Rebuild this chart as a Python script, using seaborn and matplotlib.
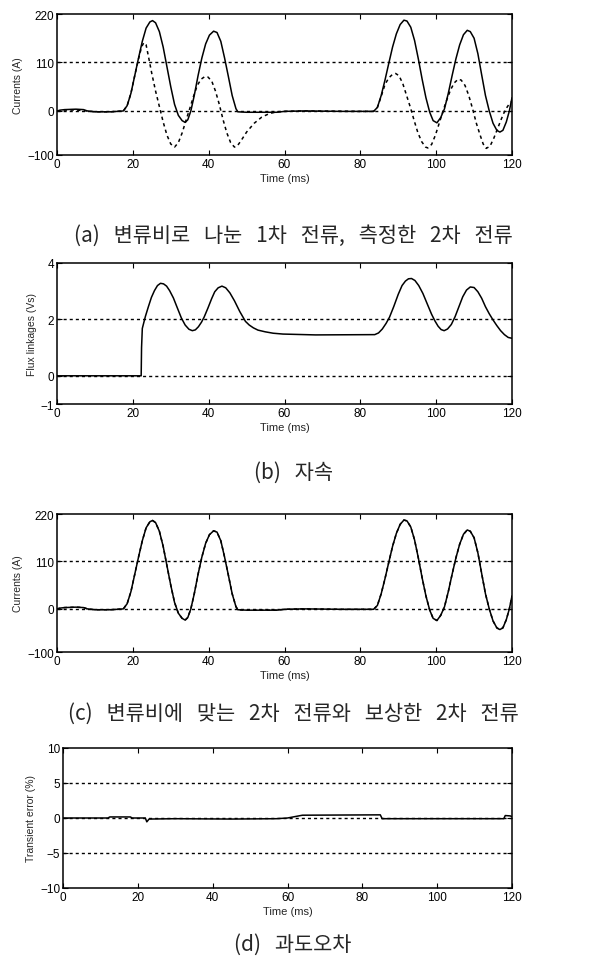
import numpy as np
import pandas as pd
import matplotlib
matplotlib.use("Agg")
import matplotlib.pyplot as plt
import seaborn as sns

# ---- data ----
# (a)/(c) secondary current (solid)
t_sec = [0, 1, 2, 5, 7, 8, 10, 14, 16, 17.5, 18.5, 19.5, 20.5, 21.5, 22.5, 23.5, 24.5, 25.2, 26, 27,
         28, 29, 30, 31, 32, 33, 33.8, 34.5, 35.3, 36.2, 37.2, 38.2, 39.2, 40.2, 41.3, 42.2, 43.2,
         44.2, 45.2, 46.2, 47.2, 47.7, 50, 55, 58, 60, 65, 75, 80, 83.5, 84.5, 85.5, 86.5, 87.5,
         88.5, 89.5, 90.5, 91.5, 92.3, 93.3, 94.3, 95.3, 96.3, 97.3, 98.3, 99.2, 100.2, 101.2,
         102.2, 103.2, 104.2, 105.2, 106.2, 107.2, 108.2, 109, 110, 111, 112, 113, 114, 115, 116,
         116.8, 117.6, 118.5, 119.3, 120]
i_sec = [0, 2, 3, 4, 3, 0, -2, -2, -1, 0, 12, 40, 80, 120, 158, 188, 202, 205, 200, 180,
         145, 100, 55, 15, -10, -22, -26, -20, 0, 35, 80, 120, 152, 172, 181, 178, 158,
         120, 78, 35, 5, -2, -3, -3, -3, -1, 0, -1, -1, -1, 8, 35, 70, 108,
         145, 175, 196, 206, 204, 190, 160, 118, 72, 30, -3, -22, -27, -15,
         5, 40, 80, 118, 150, 173, 183, 180, 165, 130, 82, 35, 0, -28, -44,
         -48, -44, -25, 0, 30]

# (a) primary current divided by CT ratio (dashed)
t_pri = [0, 2, 5, 8, 10, 14, 17.5, 18.5, 19.5, 20.5, 21.5, 22.3, 22.9, 23.5, 24.2, 25, 26, 27, 28,
         29, 30, 31, 32, 33, 34, 35, 36, 37, 38, 39, 39.8, 40.8, 41.8, 42.8, 43.8, 44.8, 45.8,
         46.8, 47.5, 48.5, 50, 52, 54, 56, 58, 60, 65, 80, 83.5, 84.5, 85.5, 86.5, 87.5, 88.5,
         89.3, 90.2, 91.2, 92.2, 93.2, 94.2, 95.2, 96.2, 97.2, 97.8, 98.8, 99.8, 100.8, 101.8,
         102.8, 103.8, 104.8, 105.8, 106.6, 107.6, 108.6, 109.6, 110.6, 111.6, 112.4, 113.2,
         114.2, 115.2, 116.2, 117.2, 118.2, 119.2, 120]
i_pri = [0, 2, 2, 0, -2, -2, 0, 12, 40, 80, 118, 145, 155, 150, 120, 85, 45, 10, -25,
         -55, -75, -82, -72, -50, -22, 5, 33, 58, 72, 78, 77, 68, 45, 15, -20, -50, -72,
         -82, -80, -68, -48, -28, -14, -6, -2, -1, 0, -1, -1, 8, 33, 60, 75, 83,
         85, 80, 62, 35, 8, -22, -50, -70, -82, -84, -76, -55, -28, 0,
         25, 48, 64, 72, 70, 58, 35, 5, -28, -55, -75, -85,
         -80, -62, -40, -18, 2, 15, 22]

# (b) flux linkages
t_flux = [0, 22.2, 22.3, 22.5, 23.3, 24.1, 24.9, 25.7, 26.5, 27.3, 28.1, 28.9, 29.7, 30.7, 31.7,
          32.8, 33.8, 34.8, 35.7, 36.5, 37.3, 38.1, 38.8, 39.8, 40.8, 41.6, 42.5, 43.5, 44.5,
          45.6, 46.8, 48.2, 49.7, 50.7, 51.8, 53, 54.9, 57, 59.6, 68.2, 83.8, 84.8, 85.8, 86.8,
          87.7, 88.8, 90, 91, 91.9, 92.7, 93.5, 94.4, 95.4, 96.5, 97.8, 98.8, 99.7, 100.5, 101.3,
          102.1, 103, 104, 105, 106, 107, 108, 109, 110, 111, 112, 113, 114, 115, 116, 117, 118,
          119, 120]
flux = [0, 0, 1.0, 1.68, 2.1, 2.45, 2.78, 3.02, 3.2, 3.28, 3.26, 3.18, 3.02, 2.76, 2.42,
        2.05, 1.8, 1.65, 1.6, 1.63, 1.74, 1.9, 2.08, 2.4, 2.74, 2.98, 3.12, 3.18, 3.12,
        2.94, 2.66, 2.28, 1.93, 1.8, 1.7, 1.62, 1.56, 1.51, 1.48, 1.45, 1.46, 1.52, 1.66, 1.86,
        2.08, 2.45, 2.89, 3.2, 3.36, 3.44, 3.45, 3.38, 3.2, 2.92, 2.5, 2.18, 1.94, 1.76, 1.64,
        1.6, 1.66, 1.82, 2.1, 2.45, 2.8, 3.04, 3.15, 3.13, 2.98, 2.75, 2.45, 2.2, 1.98, 1.78,
        1.6, 1.46, 1.36, 1.33]

# (d) transient error
t_err = [0, 12, 12.5, 18, 18.5, 22, 22.4, 23, 30, 45, 57, 60, 62, 63, 64, 84.8, 85.3, 100,
         117.8, 118.2, 119.5, 120]
err = [0, 0, 0.15, 0.15, 0, 0, -0.55, -0.15, -0.1, -0.15, -0.1, 0, 0.2, 0.3, 0.4, 0.45, -0.1, -0.1,
       -0.1, 0.35, 0.3, 0.2]

x_ticks = [0, 20, 40, 60, 80, 100, 120]
captions = ['(a) 변류비로 나눈 1차 전류, 측정한 2차 전류', '(b) 자속',
            '(c) 변류비에 맞는 2차 전류와 보상한 2차 전류', '(d) 과도오차']

# ---- style ----
sns.set_style("ticks")
plt.rcParams['font.family'] = ['Liberation Sans', 'DejaVu Sans']
plt.rcParams['xtick.direction'] = 'in'
plt.rcParams['ytick.direction'] = 'in'

fig = plt.figure(figsize=(5.93, 9.62), dpi=100)
W, H = 593, 962

def make_ax(left, top, right, bottom):
    return fig.add_axes([left / W, 1 - bottom / H, (right - left) / W, (bottom - top) / H])

axes = [make_ax(57, 15, 512, 156), make_ax(57, 264, 512, 405),
        make_ax(57, 515, 512, 653), make_ax(63, 749, 512, 889)]

dash = (0, (2.2, 2.2))
grid_kw = dict(color='black', linestyle=dash, linewidth=1.0)

def draw_line(ax, x, y, style='-'):
    df = pd.DataFrame({'t': x, 'v': y})
    sns.lineplot(data=df, x='t', y='v', ax=ax, color='black', linewidth=1.1,
                 linestyle=style, estimator=None, sort=False)

draw_line(axes[0], t_sec, i_sec)
draw_line(axes[0], t_pri, i_pri, dash)
draw_line(axes[1], t_flux, flux)
draw_line(axes[2], t_sec, i_sec)
draw_line(axes[2], t_sec, i_sec, dash)
draw_line(axes[3], t_err, err)

y_setup = [((-100, 220), [-100, 0, 110, 220], 'Currents (A)'),
           ((-1, 4), [-1, 0, 2, 4], 'Flux linkages (Vs)'),
           ((-100, 220), [-100, 0, 110, 220], 'Currents (A)'),
           ((-10, 10), [-10, -5, 0, 5, 10], 'Transient error (%)')]

for ax, (ylim, yt, ylab) in zip(axes, y_setup):
    ax.set_xlim(0, 120)
    ax.set_ylim(*ylim)
    ax.set_xticks(x_ticks)
    ax.set_yticks(yt)
    ax.tick_params(labelsize=8.5, length=3.5, width=0.8, pad=2,
                   top=True, right=True, colors='black')
    for y in yt[1:-1]:
        ax.axhline(y, zorder=0, **grid_kw)
    ax.set_xlabel('Time (ms)', fontsize=8, labelpad=2)
    ax.set_ylabel(ylab, fontsize=7.5, labelpad=3)
    for s in ax.spines.values():
        s.set_linewidth(1.1)
        s.set_color('black')

# captions: wide word gaps like the original typesetting
cap_y = [236, 473, 714, 945]
for c, y in zip(captions, cap_y):
    fig.text(293 / W, 1 - y / H, c.replace(' ', '   '), ha='center', va='center',
             fontsize=15, family=['Noto Sans CJK KR', 'DejaVu Sans'])

fig.savefig('out.png', dpi=100)
